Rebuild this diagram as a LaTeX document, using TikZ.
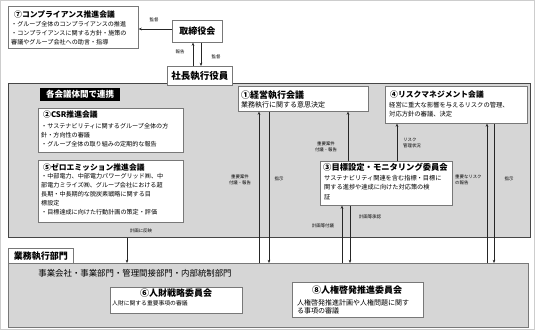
\documentclass[tikz,border=0pt]{standalone}
\usepackage{fontspec}
\setmainfont{Noto Sans CJK JP}
\usetikzlibrary{arrows.meta,calc}
\definecolor{bg}{RGB}{214,214,214}
\definecolor{edge}{RGB}{70,70,70}
\definecolor{bline}{RGB}{120,120,120}
\definecolor{framec}{RGB}{205,205,205}
\begin{document}
\begin{tikzpicture}[x=1pt,y=-1pt,
 box/.style={draw=bline,fill=white,line width=0.6pt,inner sep=0,anchor=north west},
 panel/.style={draw=edge,fill=bg,line width=0.6pt,inner sep=0,anchor=north west},
 ttl/.style={font=\bfseries\fontsize{7.8}{9}\selectfont,anchor=north west,inner sep=0},
 body/.style={font=\fontsize{6.1}{9}\selectfont,align=left,anchor=north west,inner sep=0},
 lbl/.style={font=\fontsize{4.4}{5.8}\selectfont,align=center,inner sep=0},
 arr/.style={draw=black!85,line width=0.55pt,-{Stealth[length=3.2pt,width=2.6pt]}},
 ln/.style={draw=black!85,line width=0.55pt}]
\useasboundingbox (0,0) rectangle (535,330);
\draw[framec,line width=0.8pt] (0.4,0.4) rectangle (534.6,329.6);
% panels
\node[panel,minimum width=522,minimum height=154] (mid) at (8,83) {};
\node[panel,draw=bline,minimum width=520,minimum height=64] (bot) at (8,263) {};
% top boxes
\node[box,minimum width=130,minimum height=42] (b7) at (8,6) {};
\node[ttl] (t7) at (14,10.5) {⑦コンプライアンス推進会議};
\node[body] (d7) at (11,21.5) {・グループ全体のコンプライアンスの推進\\・コンプライアンスに関する方針・施策の\\審議やグループ会社への助言・指導};
\node[box,minimum width=50,minimum height=22,anchor=north west,font=\bfseries\fontsize{9}{10}\selectfont] (board) at (172,20) {取締役会};
\node[box,minimum width=65,minimum height=19,font=\bfseries\fontsize{9.5}{10}\selectfont] (pres) at (167,66) {社長執行役員};
% middle
\node[fill=black,text=white,anchor=north west,minimum width=80,minimum height=13,inner sep=0,font=\bfseries\fontsize{8.5}{9}\selectfont] (link) at (40,88) {各会議体間で連携};
\node[box,minimum width=145,minimum height=44] (b2) at (38,108) {};
\node[ttl] (t2) at (43,111) {②CSR推進会議};
\node[body] (d2) at (41,123.5) {・サステナビリティに関するグループ全体の方\\針・方向性の審議\\・グループ全体の取り組みの定期的な報告};
\node[box,minimum width=145,minimum height=62] (b5) at (38,160) {};
\node[ttl] (t5) at (43,163.5) {⑤ゼロエミッション推進会議};
\node[body] (d5) at (41,173.5) {・中部電力、中部電力パワーグリッド㈱、中\\部電力ミライズ㈱、グループ会社における超\\長期・中長期的な脱炭素戦略に関する目\\標設定\\・目標達成に向けた行動計画の策定・評価};
\node[box,minimum width=130,minimum height=25] (b1) at (238,86) {};
\node[ttl,font=\bfseries\fontsize{9}{10}\selectfont] (t1) at (241,90.5) {①経営執行会議};
\node[body,font=\fontsize{7}{9}\selectfont] (d1) at (241,101.5) {業務執行に関する意思決定};
\node[box,minimum width=142,minimum height=37] (b4) at (385,86) {};
\node[ttl] (t4) at (390,90.5) {④リスクマネジメント会議};
\node[body,font=\fontsize{6.3}{8.5}\selectfont] (d4) at (389,102) {経営に重大な影響を与えるリスクの管理、\\対応方針の審議、決定};
\node[box,minimum width=132,minimum height=44] (b3) at (320,161) {};
\node[ttl,font=\bfseries\fontsize{8.3}{9}\selectfont] (t3) at (323,163) {③目標設定・モニタリング委員会};
\node[body,font=\fontsize{6.2}{9.5}\selectfont] (d3) at (324,175) {サステナビリティ関連を含む指標・目標に\\関する進捗や達成に向けた対応策の検\\証};
% bottom
\node[box,minimum width=65,minimum height=15,font=\bfseries\fontsize{9}{10}\selectfont] (dept) at (8,248) {業務執行部門};
\node[font=\fontsize{8.4}{10}\selectfont,inner sep=0] (units) at (135,273) {事業会社・事業部門・管理間接部門・内部統制部門};
\node[box,minimum width=132,minimum height=26] (b6) at (110,287) {};
\node[font=\bfseries\fontsize{9}{10}\selectfont,inner sep=0] (t6) at (176,293) {⑥人財戦略委員会};
\node[body,font=\fontsize{5.8}{8}\selectfont] (d6) at (112,300.5) {人財に関する重要事項の審議};
\node[box,minimum width=131,minimum height=35] (b8) at (292,282) {};
\node[font=\bfseries\fontsize{9}{10}\selectfont,inner sep=0] (t8) at (357,290) {⑧人権啓発推進委員会};
\node[body,font=\fontsize{7}{8}\selectfont] (d8) at (297,299) {人権啓発推進計画や人権問題に関す\\る事項の審議};
% coordinates
\coordinate (r29) at (0,29);
\foreach \c in {127,193,201,259,269,342,348,350,397,487,494} {\coordinate (x\c) at (\c,0);}
% connectors
\draw[arr] (board.west |- r29) -- (b7.east |- r29);
\draw[arr] (pres.north -| x193) -- (board.south -| x193);
\draw[arr] (board.south -| x201) -- (pres.north -| x201);
\draw[arr] (bot.north -| x259) -- (b1.south -| x259);
\draw[arr] (b1.south -| x269) -- (bot.north -| x269);
\draw[arr] (b3.north -| x348) -- (b1.south -| x348);
\draw[arr] (b3.north -| x397) -- (b4.south -| x397);
\draw[arr] (bot.north -| x487) -- (b4.south -| x487);
\draw[arr] (b4.south -| x494) -- (bot.north -| x494);
\draw[arr] (bot.north -| x342) -- (b3.south -| x342);
\draw[arr] (b3.south -| x350) -- (bot.north -| x350);
\draw[arr] (mid.south -| x127) -- (bot.north -| x127);
% labels
\node[lbl] (l1) at (154,20) {監督};
\node[lbl] (l2) at (180,52) {報告};
\node[lbl] (l3) at (216,57) {監督};
\node[lbl] (l4) at (240,180) {重要案件\\付議・報告};
\node[lbl] (l5) at (279,179) {指示};
\node[lbl] (l6) at (326,147) {重要案件\\付議・報告};
\node[lbl,align=left,anchor=west] (l7) at (403,142.5) {リスク\\管理状況};
\node[lbl,align=left,anchor=west] (l8) at (455,180) {重要なリスク\\の報告};
\node[lbl] (l9) at (509,179) {指示};
\node[lbl] (l10) at (323,226) {計画等付議};
\node[lbl] (l11) at (370,217) {計画等承認};
\node[lbl] (l12) at (141,231) {計画に反映};
\end{tikzpicture}
\end{document}
